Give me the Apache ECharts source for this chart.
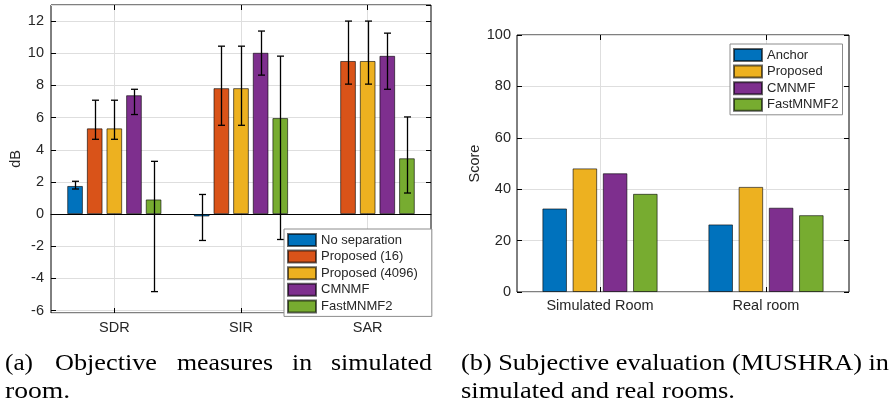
<!DOCTYPE html>
<html>
<head>
<meta charset="utf-8">
<script src="https://cdn.jsdelivr.net/npm/echarts@6/dist/echarts.min.js"></script>
<style>
  html, body { margin: 0; padding: 0; background: #fff; }
  #chart { width: 892px; height: 405px; }
</style>
</head>
<body>
<div id="chart"></div>
<script>
// (a) objective measures, dB
const metrics = ['SDR', 'SIR', 'SAR']
const methodsA = ['No separation', 'Proposed (16)', 'Proposed (4096)', 'CMNMF', 'FastMNMF2']
const noSep = [1.75, -0.15, null]
const prop16 = [5.33, 7.83, 9.52]
const prop4096 = [5.33, 7.83, 9.52]
const cmnmfA = [7.39, 10.03, 9.84]
const fastA = [0.91, 5.97, 3.47]
// error bar ends
const noSepLo = [1.56, -1.64, null]
const noSepHi = [2.04, 1.22, null]
const prop16Lo = [4.65, 5.52, 8.08]
const prop16Hi = [7.08, 10.44, 12.0]
const prop4096Lo = [4.65, 5.52, 8.08]
const prop4096Hi = [7.08, 10.44, 12.0]
const cmnmfLo = [6.19, 8.64, 7.76]
const cmnmfHi = [7.76, 11.38, 11.25]
const fastLo = [-4.82, -1.58, 1.31]
const fastHi = [3.28, 9.82, 6.04]

// (b) MUSHRA scores
const rooms = ['Simulated Room', 'Real room']
const methodsB = ['Anchor', 'Proposed', 'CMNMF', 'FastMNMF2']
const anchorB = [32.5, 26.3]
const proposedB = [48.1, 40.9]
const cmnmfB = [46.2, 32.8]
const fastB = [38.2, 29.9]

const blue = '#0072BD'
const orange = '#D95319'
const yellow = '#EDB120'
const purple = '#7E2F8E'
const green = '#77AC30'

const font = '"Liberation Sans", Arial, Helvetica, sans-serif'
const txt = '#262626'
const gridGray = '#dedede'

const barWA = 0.124
const gapA = 0.25
const barWB = 0.148
const gapB = 0.23

function barSeries (name, data, color, idx, w, gap) {
  return {
    type: 'bar',
    name: name,
    data: data,
    xAxisIndex: idx === 0 ? 0 : 3,
    yAxisIndex: idx === 0 ? 0 : 2,
    barWidth: (w * 100) + '%',
    barGap: (gap * 100) + '%',
    itemStyle: { color: color, borderColor: 'rgba(0,0,0,0.6)', borderWidth: 1 },
    z: 2
  }
}

function errSeries (lo, hi, k, n) {
  return {
    type: 'custom',
    xAxisIndex: 0,
    yAxisIndex: 0,
    z: 3,
    silent: true,
    data: metrics.map((m, i) => [i, lo[i], hi[i]]).filter(d => d[1] != null),
    renderItem: function (params, api) {
      const band = api.size([1, 0])[0]
      const bw = band * barWA
      const off = (k - (n - 1) / 2) * bw * (1 + gapA)
      const p1 = api.coord([api.value(0), api.value(1)])
      const p2 = api.coord([api.value(0), api.value(2)])
      const x = Math.round(p1[0] + off) + 0.5
      const c = 3.5
      const st = { stroke: '#000', lineWidth: 1.3 }
      return {
        type: 'group',
        children: [
          { type: 'line', shape: { x1: x, y1: p1[1], x2: x, y2: p2[1] }, style: st },
          { type: 'line', shape: { x1: x - c, y1: p1[1], x2: x + c, y2: p1[1] }, style: st },
          { type: 'line', shape: { x1: x - c, y1: p2[1], x2: x + c, y2: p2[1] }, style: st }
        ]
      }
    }
  }
}

function catAxis (grid, data, pos, labels, margin) {
  return {
    type: 'category',
    gridIndex: grid,
    data: data,
    position: pos,
    axisLine: { show: false, onZero: false },
    axisTick: { show: true, inside: true, alignWithLabel: true, length: 5, lineStyle: { color: '#000' } },
    axisLabel: { show: labels, fontSize: 14.5, color: txt, fontFamily: font, margin: margin },
    splitLine: { show: false }
  }
}

function centerLines (grid, n, zeroLine) {
  return {
    type: 'value',
    gridIndex: grid,
    min: 0,
    max: n * 2,
    interval: 1,
    position: 'bottom',
    axisLine: { show: zeroLine, onZero: true, lineStyle: { color: '#000', width: 1 } },
    axisTick: { show: false },
    axisLabel: { show: false },
    splitLine: { show: true, lineStyle: { color: ['rgba(0,0,0,0)', gridGray], width: 1 } }
  }
}

function legendBox (data, left, top, pad) {
  return {
    data: data,
    orient: 'vertical',
    left: left,
    top: top,
    icon: 'rect',
    itemWidth: 28,
    itemHeight: 12,
    itemGap: 2.6,
    padding: pad,
    borderColor: '#8c8c8c',
    borderWidth: 1,
    backgroundColor: '#fff',
    selectedMode: false,
    textStyle: { fontSize: 13, color: txt, fontFamily: font }
  }
}

const chart = echarts.init(document.getElementById('chart'), null, { renderer: 'canvas' })

// caption pieces: text, left, right, baseline (line (a) is justified, so word by word)
const capWords = [
  ['(a)', 5, 33, 370.5], ['Objective', 55, 157, 370.5], ['measures', 177, 273, 370.5],
  ['in', 292, 312, 370.5], ['simulated', 331, 432, 370.5], ['room.', 5, 77, 399],
  ['(b) Subjective evaluation (MUSHRA) in', 461, 889, 370.5],
  ['simulated and real rooms.', 461, 735, 399]
]
const capFont = '24px "Liberation Serif", "Times New Roman", serif'
const ctx = document.createElement('canvas').getContext('2d')
ctx.font = capFont
const captions = capWords.map(w => {
  const mw = ctx.measureText(w[0]).width
  const s = Math.max(0.9, Math.min((w[2] - w[1]) / mw, 1.15))
  return {
    type: 'text',
    x: w[1],
    y: w[3] - 7,
    scaleX: s,
    style: { text: w[0], x: 0, y: 0, font: capFont, fill: '#000', align: 'left', verticalAlign: 'middle' }
  }
})

const option = {
  animation: false,
  backgroundColor: '#fff',
  textStyle: { fontFamily: font },
  grid: [
    { left: 51, top: 5, width: 380, height: 308, show: true, borderColor: '#000', borderWidth: 1, containLabel: false },
    { left: 517, top: 35, width: 332, height: 257, show: true, borderColor: '#000', borderWidth: 1, containLabel: false }
  ],
  xAxis: [
    catAxis(0, metrics, 'bottom', true, 7),
    catAxis(0, metrics, 'top', false, 7),
    centerLines(0, 3, true),
    catAxis(1, rooms, 'bottom', true, 6),
    catAxis(1, rooms, 'top', false, 6),
    centerLines(1, 2, false)
  ],
  yAxis: [
    {
      type: 'value',
      gridIndex: 0,
      min: -6.15,
      max: 13,
      splitNumber: 10,
      position: 'left',
      name: 'dB',
      nameLocation: 'middle',
      nameGap: 28,
      nameTextStyle: { fontSize: 14.5, color: txt, fontFamily: font },
      axisLine: { show: false },
      axisTick: { show: true, inside: true, length: 5, lineStyle: { color: '#000' } },
      axisLabel: {
        fontSize: 14.5,
        color: txt,
        fontFamily: font,
        margin: 7,
        showMinLabel: false,
        showMaxLabel: false,
        formatter: function (v) {
          return Math.abs(v - Math.round(v)) < 1e-6 && Math.round(v) % 2 === 0 ? String(Math.round(v)) : ''
        }
      },
      splitLine: { show: true, lineStyle: { color: gridGray } }
    },
    {
      type: 'value',
      gridIndex: 0,
      min: -6.15,
      max: 13,
      splitNumber: 10,
      position: 'right',
      axisLine: { show: false },
      axisTick: { show: true, inside: true, length: 5, lineStyle: { color: '#000' } },
      axisLabel: { show: false },
      splitLine: { show: false }
    },
    {
      type: 'value',
      gridIndex: 1,
      min: 0,
      max: 100,
      interval: 20,
      position: 'left',
      name: 'Score',
      nameLocation: 'middle',
      nameGap: 35,
      nameTextStyle: { fontSize: 14.5, color: txt, fontFamily: font },
      axisLine: { show: false },
      axisTick: { show: true, inside: true, length: 5, lineStyle: { color: '#000' } },
      axisLabel: { fontSize: 14.5, color: txt, fontFamily: font, margin: 6 },
      splitLine: { show: true, lineStyle: { color: gridGray } }
    },
    {
      type: 'value',
      gridIndex: 1,
      min: 0,
      max: 100,
      interval: 20,
      position: 'right',
      axisLine: { show: false },
      axisTick: { show: true, inside: true, length: 5, lineStyle: { color: '#000' } },
      axisLabel: { show: false },
      splitLine: { show: false }
    }
  ],
  legend: [
    legendBox(methodsA, 284, 229, [4, 14, 3, 3]),
    legendBox(methodsB, 730, 44, [4, 4, 3, 3])
  ],
  graphic: captions,
  series: [
    barSeries(methodsA[0], noSep, blue, 0, barWA, gapA),
    barSeries(methodsA[1], prop16, orange, 0, barWA, gapA),
    barSeries(methodsA[2], prop4096, yellow, 0, barWA, gapA),
    barSeries(methodsA[3], cmnmfA, purple, 0, barWA, gapA),
    barSeries(methodsA[4], fastA, green, 0, barWA, gapA),
    errSeries(noSepLo, noSepHi, 0, 5),
    errSeries(prop16Lo, prop16Hi, 1, 5),
    errSeries(prop4096Lo, prop4096Hi, 2, 5),
    errSeries(cmnmfLo, cmnmfHi, 3, 5),
    errSeries(fastLo, fastHi, 4, 5),
    barSeries(methodsB[0], anchorB, blue, 1, barWB, gapB),
    barSeries(methodsB[1], proposedB, yellow, 1, barWB, gapB),
    barSeries(methodsB[2], cmnmfB, purple, 1, barWB, gapB),
    barSeries(methodsB[3], fastB, green, 1, barWB, gapB)
  ]
}

chart.setOption(option)
</script>
</body>
</html>
